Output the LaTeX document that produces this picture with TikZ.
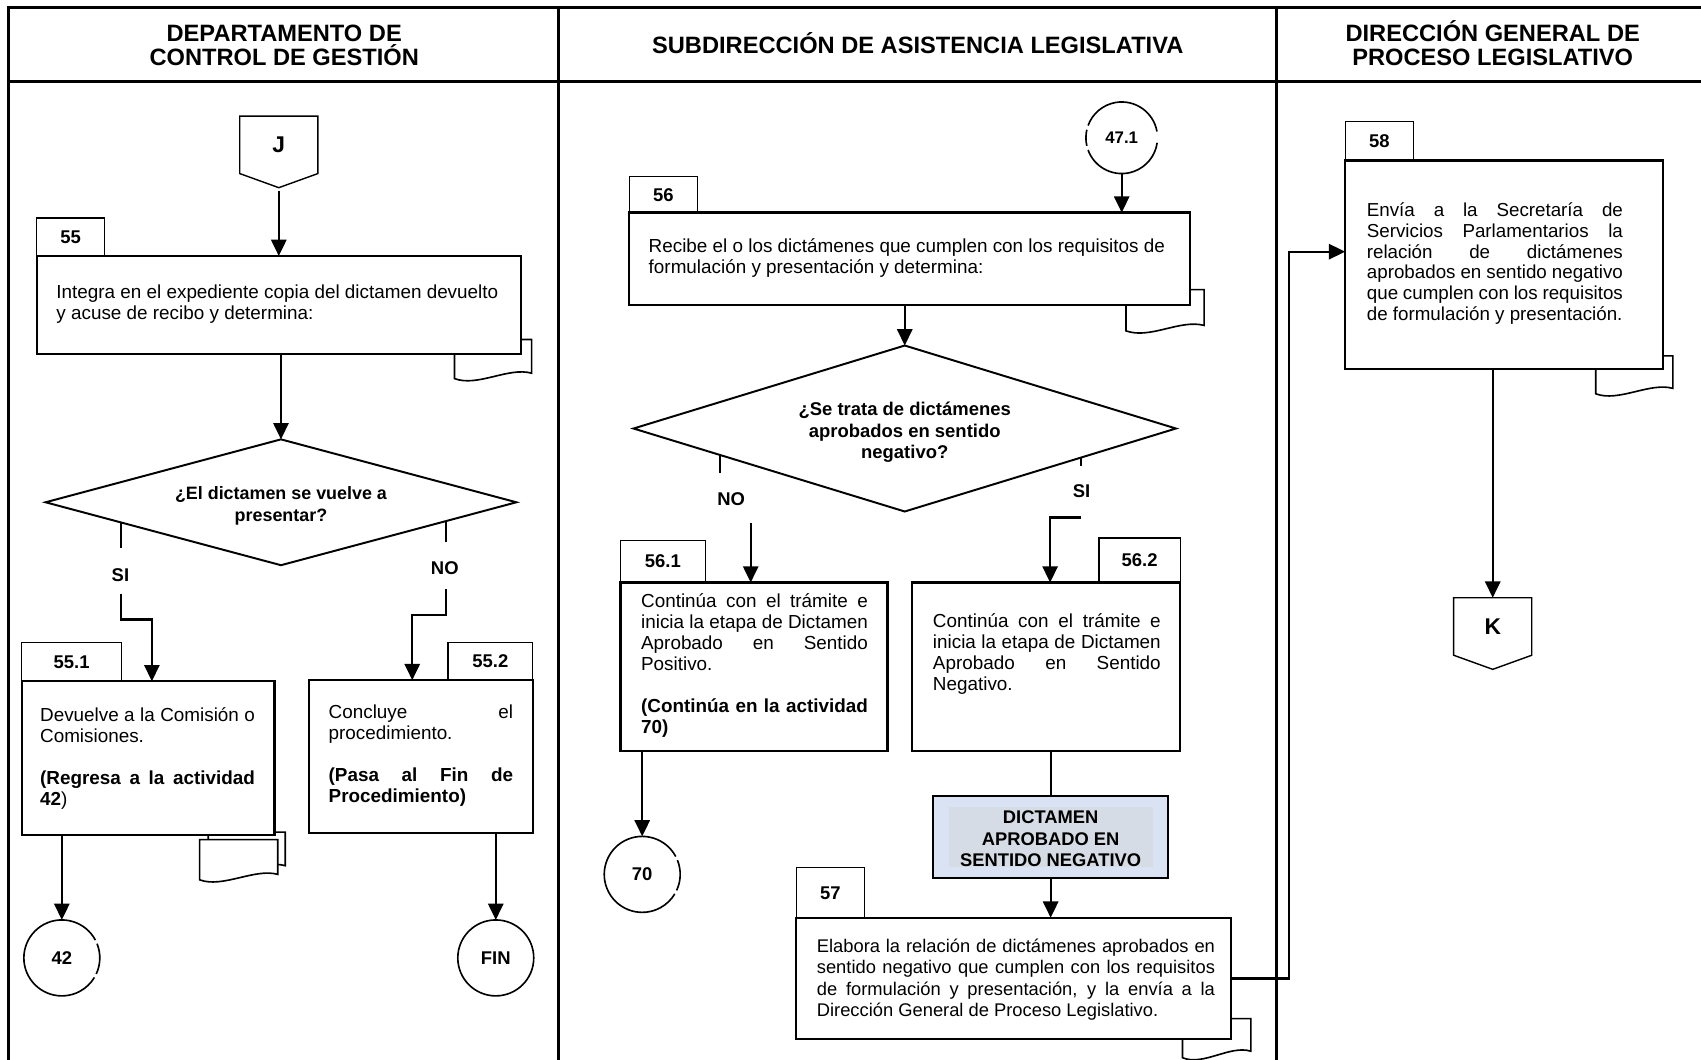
\documentclass[tikz,border=0pt]{standalone}
\usepackage{fontspec}
\setmainfont{Liberation Sans}
\usetikzlibrary{shapes.geometric,arrows.meta,calc}
\definecolor{dictblue}{RGB}{218,227,243}
\definecolor{dictgray}{RGB}{214,220,229}
% one justified line of a given width (in pt)
\newcommand{\jl}[2]{\makebox[#1pt][s]{#2}}
% partial ring around a connector node: node, start angle, end angle, radius
\newcommand{\ringarc}[4]{%
  \begin{scope}[shift={(#1.center)},y=1pt]
    \draw[circ] (#2:#4) arc[start angle=#2,end angle=#3,radius=#4];
  \end{scope}}
\begin{document}
\begin{tikzpicture}[x=1pt,y=-1pt,
  every node/.style={inner sep=0pt,outer sep=0pt},
  frame/.style={line width=2.8pt},
  box/.style={draw,line width=2.1pt,fill=white,rectangle,anchor=north west},
  tabbox/.style={draw,line width=1.1pt,fill=white,rectangle,anchor=north west,
    font=\fontsize{17}{19}\selectfont\bfseries},
  doc/.style={draw,line width=1.5pt,fill=white},
  conn/.style={line width=2.1pt},
  arr/.style={conn,-{Triangle[width=14pt,length=15pt]}},
  circ/.style={line width=1.5pt},
  offpage/.style={line width=1.3pt},
  offlbl/.style={minimum width=72pt,minimum height=53pt,anchor=north,
    font=\fontsize{21}{23}\selectfont\bfseries},
  body/.style={anchor=base west,font=\fontsize{17.4}{19.4}\selectfont},
  hdr/.style={anchor=base,font=\fontsize{21.8}{22}\selectfont\bfseries},
  question/.style={anchor=base,font=\fontsize{16.5}{20.5}\selectfont\bfseries},
  lbl/.style={font=\fontsize{17}{19}\selectfont\bfseries},
  decision/.style={diamond,draw,line width=1.8pt},
]
\useasboundingbox (0,0) rectangle (1568,977);

% ---------- swimlane frame ----------
\draw[frame] (1572,7) -- (8,7) -- (8,980);
\draw[frame] (8,75) -- (1572,75);
\draw[frame] (515,7) -- (515,980);
\draw[frame] (1177,7) -- (1177,980);

\node[hdr] (h1) at (262,38.5) {\parbox[t]{400pt}{\centering DEPARTAMENTO DE\\CONTROL DE GESTIÓN}};
\node[hdr] (h2) at (846,49.5) {SUBDIRECCIÓN DE ASISTENCIA LEGISLATIVA};
\node[hdr] (h3) at (1376,38.5) {\parbox[t]{380pt}{\centering DIRECCIÓN GENERAL DE\\PROCESO LEGISLATIVO}};

% ---------- document symbols (behind the boxes) ----------
\draw[doc] (419,313) -- (490,313) -- (490,344) .. controls +(-21,-6) and +(21,8) .. (419,349) -- cycle;
\draw[doc] (1038,267) -- (1110,267) -- (1110,300) .. controls +(-22,-6) and +(22,8) .. (1038,305) -- cycle;
\draw[doc] (1471,328) -- (1542,328) -- (1542,358) .. controls +(-21,-6) and +(21,8) .. (1471,363) -- cycle;
\draw[doc] (1090,939) -- (1153,939) -- (1153,969) .. controls +(-19,-6) and +(19,8) .. (1090,975) -- cycle;
\draw[doc] (192,767) -- (263,767) -- (263,798) .. controls +(-21,-6) and +(21,8) .. (192,803) -- cycle;
\draw[doc] (184,774) -- (256,774) -- (256,806) .. controls +(-21,-6) and +(21,8) .. (184,811) -- cycle;

% ---------- activity tabs ----------
\node[tabbox,minimum width=62pt,minimum height=35pt] (tab55) at (34,201) {55};
\node[tabbox,minimum width=63pt,minimum height=33pt] (tab56) at (580,163) {56};
\node[tabbox,minimum width=92pt,minimum height=36pt] (tab551) at (20,592) {55.1};
\node[tabbox,minimum width=78pt,minimum height=35pt] (tab552) at (413,592) {55.2};
\node[tabbox,minimum width=78pt,minimum height=39pt] (tab561) at (572,498) {56.1};
\node[tabbox,minimum width=75pt,minimum height=41pt] (tab562) at (1013,496) {56.2};
\node[tabbox,minimum width=63pt,minimum height=46pt] (tab57) at (734,800) {57};
\node[tabbox,minimum width=63pt,minimum height=36pt] (tab58) at (1240,112) {58};

% ---------- activity boxes ----------
\node[box,minimum width=446pt,minimum height=90pt] (b55) at (34,236) {};
\node[box,minimum width=517pt,minimum height=85pt] (b56) at (580,196) {};
\node[box,minimum width=233pt,minimum height=142pt] (b551) at (20,628) {};
\node[box,minimum width=206pt,minimum height=141pt] (b552) at (285,627) {};
\node[box,minimum width=246pt,minimum height=155pt] (b561) at (572,537) {};
\node[box,minimum width=247pt,minimum height=155pt] (b562) at (841,537) {};
\node[box,minimum width=401pt,minimum height=112pt] (b57) at (734,846) {};
\node[box,minimum width=293pt,minimum height=192pt] (b58) at (1240,148) {};

\node[box,line width=1.8pt,fill=dictblue,minimum width=217pt,minimum height=75pt] (dict) at (860,734) {};
\fill[dictgray] (875,744) rectangle (1063,799);
\node[anchor=base,font=\fontsize{16.9}{20}\selectfont\bfseries] (tdict) at (968.5,759)
  {\parbox[t]{200pt}{\centering DICTAMEN\\APROBADO EN\\SENTIDO NEGATIVO}};

% ---------- activity texts ----------
\node[body] (t55) at (52,275) {\parbox[t]{420pt}{Integra en el expediente copia del dictamen devuelto\\
  y acuse de recibo y determina:}};
\node[body] (t56) at (598,233) {\parbox[t]{490pt}{Recibe el o los dictámenes que cumplen con los requisitos de\\
  formulación y presentación y determina:}};
\node[body] (t551) at (37,665) {\parbox[t]{198pt}{\jl{198}{Devuelve a la Comisión o}\\
  Comisiones.\\[19.4pt]
  \textbf{\jl{198}{(Regresa a la actividad}}\\
  \textbf{42})}};
\node[body] (t552) at (303,662) {\parbox[t]{170pt}{\jl{170}{Concluye el}\\
  procedimiento.\\[19.4pt]
  \textbf{\jl{170}{(Pasa al Fin de}}\\
  \textbf{Procedimiento)}}};
\node[body] (t561) at (591,560) {\parbox[t]{209pt}{\jl{209}{Continúa con el trámite e}\\
  \jl{209}{inicia la etapa de Dictamen}\\
  \jl{209}{Aprobado en Sentido}\\
  Positivo.\\[19.4pt]
  \textbf{\jl{209}{(Continúa en la actividad}}\\
  \textbf{70)}}};
\node[body] (t562) at (860,578) {\parbox[t]{210pt}{\jl{210}{Continúa con el trámite e}\\
  \jl{210}{inicia la etapa de Dictamen}\\
  \jl{210}{Aprobado en Sentido}\\
  Negativo.}};
\node[body,font=\fontsize{16.9}{19.6}\selectfont] (t57) at (753,878) {\parbox[t]{367pt}{\jl{367}{Elabora la relación de dictámenes aprobados en}\\
  \jl{367}{sentido negativo que cumplen con los requisitos}\\
  \jl{367}{de formulación y presentación, y la envía a la}\\
  Dirección General de Proceso Legislativo.}};
\node[body,font=\fontsize{17.3}{19}\selectfont] (t58) at (1260,200) {\parbox[t]{236pt}{\jl{236}{Envía a la Secretaría de}\\
  \jl{236}{Servicios Parlamentarios la}\\
  \jl{236}{relación de dictámenes}\\
  \jl{236}{aprobados en sentido negativo}\\
  \jl{236}{que cumplen con los requisitos}\\
  de formulación y presentación.}};

% ---------- decisions ----------
\node[decision,minimum width=434pt,minimum height=116pt] (d1) at (259,463) {};
\node[question] (q1) at (259,460) {\parbox[t]{260pt}{\centering ¿El dictamen se vuelve a\\presentar?}};
\node[decision,minimum width=500pt,minimum height=153pt] (d2) at (834,395) {};
\node[question,font=\fontsize{17}{20}\selectfont\bfseries] (q2) at (834,383)
  {\parbox[t]{260pt}{\centering ¿Se trata de dictámenes\\aprobados en sentido\\negativo?}};

% ---------- off-page connectors ----------
\node[offlbl] (J) at (257,107) {J};
\draw[offpage] (J.north west) -- (J.north east) -- (J.south east) -- ($(J.south)+(0,13)$) -- (J.south west) -- cycle;
\node[offlbl] (K) at (1376,551) {K};
\draw[offpage] (K.north west) -- (K.north east) -- (K.south east) -- ($(K.south)+(0,13)$) -- (K.south west) -- cycle;

% ---------- on-page connectors ----------
\node[lbl,circle,minimum size=70pt] (c42) at (57,883) {42};
\ringarc{c42}{28}{329}{35}
\ringarc{c42}{-25}{22}{35}
\node[lbl,circle,minimum size=70pt] (fin) at (457,883) {FIN};
\draw[circ] (fin) circle[radius=35];
\node[lbl,circle,minimum size=70pt] (c70) at (592,806) {70};
\ringarc{c70}{28}{329}{35}
\ringarc{c70}{-25}{22}{35}
\node[lbl,circle,minimum size=66pt,font=\fontsize{15.5}{17}\selectfont\bfseries] (c471) at (1034,127) {47.1};
\ringarc{c471}{10}{160}{33}
\ringarc{c471}{167}{193}{33}
\ringarc{c471}{200}{352}{33}

% ---------- flow, lane 1 ----------
\draw[arr] ($(J.south)+(0,16)$) -- (J.south |- b55.north);
\draw[arr] (d1.north |- b55.south) -- (d1.north);

\coordinate (si1) at ($(d1.west)!0.32!(d1.south)$);
\draw[conn] (si1) -- (si1 |- 0,505);
\node[lbl] (si1t) at (111,530) {SI};
\coordinate (si1b) at (si1 |- 0,548);
\draw[arr] (si1b) -- ++(0,23) -| ($(b551.north west)+(120,0)$);

\coordinate (no1) at ($(d1.east)!0.3!(d1.south)$);
\draw[conn] (no1) -- (no1 |- 0,500);
\node[lbl] (no1t) at (410,524) {NO};
\coordinate (no1b) at (no1 |- 0,543);
\draw[arr] (no1b) -- ++(0,24) -| ($(b552.north west)+(95,0)$);

\draw[arr] (c42.north |- b551.south) -- (c42.north);
\draw[arr] (fin.north |- b552.south) -- (fin.north);

% ---------- flow, lane 2 ----------
\draw[arr] (c471.south) -- (c471.south |- b56.north);
\draw[arr] (d2.north |- b56.south) -- (d2.north);

\coordinate (no2) at ($(d2.west)!0.32!(d2.south)$);
\draw[conn] (no2) -- (no2 |- 0,436);
\node[lbl] (no2t) at (674,460) {NO};
\coordinate (no2b) at (692,482);
\draw[arr] (no2b) -- (no2b |- b561.north);

\coordinate (si2) at ($(d2.east)!0.35!(d2.south)$);
\draw[conn] (si2) -- (si2 |- 0,430);
\node[lbl] (si2t) at (997,453) {SI};
\coordinate (si2b) at (si2 |- 0,477);
\draw[arr] (si2b) -| ($(b562.north west)+(127,0)$);

\draw[arr] (c70.north |- b561.south) -- (c70.north);
\draw[conn] (dict.north |- b562.south) -- (dict.north);
\draw[arr] (dict.south) -- (dict.south |- b57.north);

% ---------- flow to lane 3 ----------
\draw[arr] (b57.east) -- ++(53,0) |- ($(b58.west)+(0,-12)$);
\draw[arr] (K.north |- b58.south) -- (K.north);
\end{tikzpicture}
\end{document}
